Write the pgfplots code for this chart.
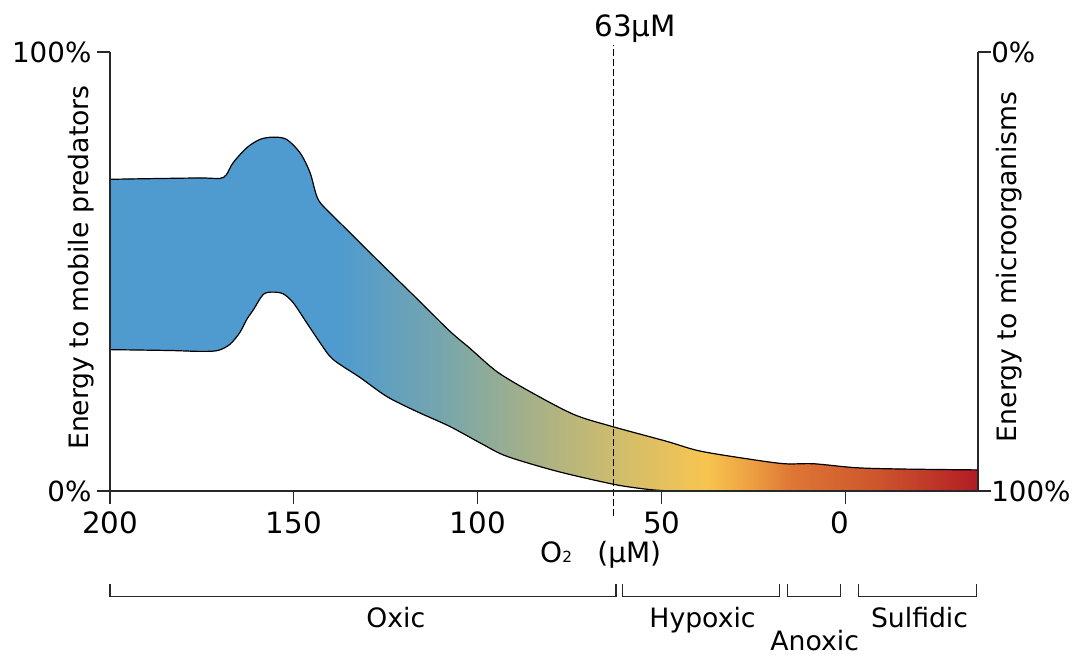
\documentclass[border=0pt]{standalone}
\usepackage{pgfplots}
\pgfplotsset{compat=1.18}
\usepackage{pgfplotstable}
\usepgfplotslibrary{fillbetween}
\usepackage{fontspec}
\setmainfont{DejaVu Sans}

% colour ramp along the oxygen axis: oxic blue -> hypoxic yellow -> sulfidic red
\definecolor{oxBlue}{RGB}{79,155,207}
\definecolor{oxTeal}{RGB}{115,165,175}
\definecolor{oxSage}{RGB}{160,175,140}
\definecolor{oxTan}{RGB}{205,188,110}
\definecolor{oxYellow}{RGB}{247,197,80}
\definecolor{oxAmber}{RGB}{237,160,65}
\definecolor{oxOrange}{RGB}{222,118,52}
\definecolor{oxRust}{RGB}{205,85,45}
\definecolor{oxRed}{RGB}{178,28,36}
\definecolor{axisgray}{RGB}{40,40,40}

\pgfdeclarehorizontalshading{oxygen}{100bp}{%
  color(0bp)=(oxBlue); color(38.25bp)=(oxBlue);
  color(43.7bp)=(oxTeal); color(48.6bp)=(oxSage);
  color(53.9bp)=(oxTan); color(59.3bp)=(oxYellow);
  color(61.9bp)=(oxAmber); color(64.3bp)=(oxOrange);
  color(69.2bp)=(oxRust); color(75bp)=(oxRed); color(100bp)=(oxRed)}

% upper edge of the band (O2 in uM, energy share in %)
\pgfplotstableread{
x y
200 71.0
185 71.2
175 71.3
170.1 71.2
168.4 72.0
166.5 74.8
162.8 78.2
159.2 80.1
155.6 80.6
152.0 80.1
148.3 77.0
145.6 72.5
143.4 66.4
139.3 62.6
134.7 58.8
127.4 52.7
116.3 43.6
107.6 36.4
102.4 32.7
100.8 31.5
94.5 27.0
85.3 22.4
73.8 17.4
63.5 14.7
48.6 11.3
39.6 9.1
25.7 7.2
16.5 6.2
8.6 6.2
-2.8 5.3
-15.5 5.0
-36 4.8
}\upperTab

% lower edge of the band
\pgfplotstableread{
x y
200 32.2
183.7 32.0
175.5 31.8
170.7 32.0
167.4 33.4
164.7 36.1
162.8 39.1
161.0 41.3
158.3 44.8
155.6 45.3
152.9 44.9
150.2 42.9
146.5 38.3
142.9 33.8
139.4 30.0
132.1 25.9
124.7 21.5
116.6 18.1
107.6 14.7
98.6 10.6
92.1 7.9
78.5 4.5
63.5 1.6
56.0 0.6
49.7 0.1
40 0
-36 0
}\lowerTab

\pgfplotsset{
  oxframe/.style={
    at={(0,0)}, anchor=south west,
    scale only axis, width=651pt, height=329.25pt,
    xmin=-36, xmax=200, x dir=reverse,
    ymin=0, ymax=100,
    axis line style={line width=0.9pt, axisgray},
    tick style={line width=0.9pt, axisgray},
    tick align=outside, major tick length=9.75pt,
    xticklabel style={font=\fontsize{22}{26}\selectfont},
    yticklabel style={font=\fontsize{20.8}{25}\selectfont, inner sep=0pt},
    /pgf/number format/assume math mode=true,
  },
}

\begin{document}
\begin{tikzpicture}
\begin{axis}[
  oxframe,
  axis x line*=bottom, axis y line*=left,
  axis on top=true,
  xtick={0,50,100,150,200},
  xticklabels={\hspace{-9pt}0,50,100,150,200},
  xticklabel style={yshift=-2pt},
  ytick={0,100}, yticklabels={0\%,100\%},
  yticklabel style={xshift=-4pt},
  clip=false,
]
\addplot[draw=none, name path=up, smooth] table {\upperTab};
\addplot[draw=none, name path=lo, smooth] table {\lowerTab};
\addplot[shade, shading=oxygen, draw=none] fill between[of=up and lo];
\addplot[black, line width=0.9pt, smooth] table {\upperTab};
\addplot[black, line width=0.9pt, smooth] table {\lowerTab};

% boundary of the oxic zone
\addplot[black, line width=0.7pt, dash pattern=on 5.25pt off 2.25pt]
  coordinates {(63,-5.8) (63,101.5)};
\node[anchor=base west, inner sep=0, font=\fontsize{22}{26}\selectfont]
  at (axis cs:68.3,103.5) {63μM};

% axis titles
\node[anchor=base west, inner sep=0, font=\fontsize{21}{25}\selectfont]
  at (axis cs:83.1,-16.3) {O{\fontsize{11.5}{12}\selectfont 2}\hspace{19pt}(μM)};
\node[rotate=90, inner sep=0, font=\fontsize{20}{24}\selectfont]
  at (rel axis cs:-0.0334,0.509) {Energy to mobile predators};
\node[rotate=90, inner sep=0, font=\fontsize{20}{24}\selectfont]
  at (rel axis cs:1.0357,0.510) {Energy to microorganisms};

% redox zones
\begin{scope}[line width=0.9pt, axisgray]
\draw (axis cs:200,-21.3) |- (axis cs:62.4,-24.1) -- (axis cs:62.4,-21.3);
\draw (axis cs:60.7,-21.3) |- (axis cs:17.9,-24.1) -- (axis cs:17.9,-21.3);
\draw (axis cs:15.8,-21.3) |- (axis cs:1.4,-24.1) -- (axis cs:1.4,-21.3);
\draw (axis cs:-3.5,-21.3) |- (axis cs:-35.6,-24.1) -- (axis cs:-35.6,-21.3);
\end{scope}
\begin{scope}[every node/.style={anchor=base, inner sep=0, font=\fontsize{20}{24}\selectfont}]
\node at (axis cs:122.3,-31.0) {Oxic};
\node at (axis cs:38.9,-31.0) {Hypoxic};
\node at (axis cs:8.4,-36.3) {Anoxic};
\node at (axis cs:-20.1,-31.0) {Sulfidic};
\end{scope}
\end{axis}

% share going to microorganisms, read downwards
\begin{axis}[
  oxframe,
  y dir=reverse,
  axis x line=none, axis y line*=right,
  ytick={0,100}, yticklabels={0\%,100\%},
  yticklabel style={xshift=0pt},
]
\addplot[draw=none] coordinates {(200,0) (-36,100)};
\end{axis}

% page frame
\path (-82.5pt,-123pt) rectangle (723.75pt,368.25pt);
\end{tikzpicture}
\end{document}
